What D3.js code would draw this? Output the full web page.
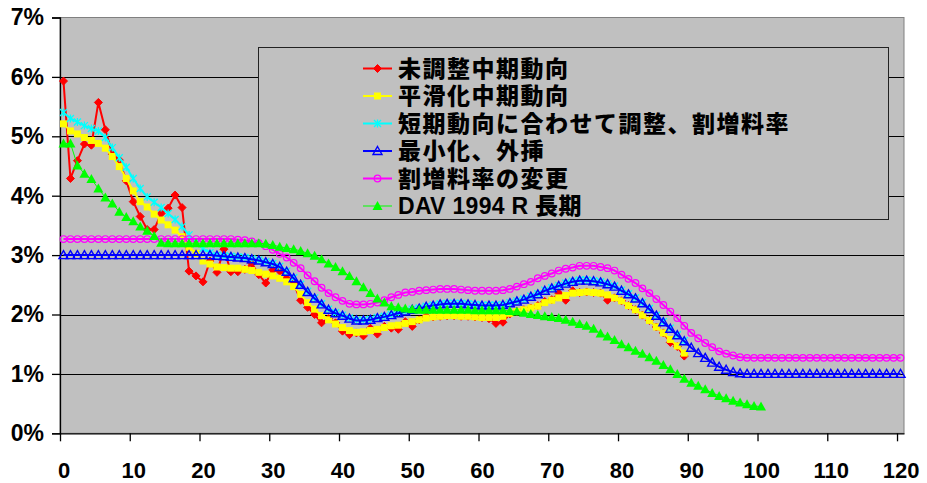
<!DOCTYPE html>
<html>
<head>
<meta charset="utf-8">
<style>
  body { margin: 0; background: #fff; }
  svg text { font-family: "Liberation Sans", Arial, "Noto Sans CJK JP", sans-serif; font-weight: bold; }
</style>
</head>
<body>
<svg id="chart"></svg>
<script src="https://d3js.org/d3.v7.min.js"></script>
<script>
var width = 927, height = 483;
var margin = {top: 17.5, right: 23, bottom: 50, left: 60};

// values in percent, one per age starting at 0
var unadjusted = [5.93,4.29,4.59,4.87,4.85,5.57,5.11,4.70,4.60,4.25,
  3.90,3.65,3.43,3.43,3.70,3.79,4.01,3.80,2.73,2.65,
  2.55,2.90,2.71,3.10,2.72,2.72,2.76,2.86,2.67,2.53,
  2.75,2.73,2.61,2.52,2.24,2.12,2.00,1.86,1.93,1.86,
  1.72,1.66,1.69,1.64,1.77,1.67,1.80,1.77,1.75,1.88,
  1.80,1.91,1.97,1.96,1.97,1.98,1.98,1.97,1.97,1.96,
  1.95,1.93,1.85,1.87,2.01,2.05,2.08,2.11,2.15,2.22,
  2.25,2.36,2.24,2.40,2.37,2.38,2.37,2.36,2.24,2.28,
  2.23,2.15,2.08,1.99,1.90,1.79,1.69,1.53,1.46,1.30];

var smoothed = [5.21,5.09,5.04,4.98,4.93,4.88,4.80,4.66,4.49,4.29,
  4.08,3.90,3.81,3.69,3.59,3.51,3.42,3.31,3.13,3.03,
  2.90,2.85,2.80,2.79,2.78,2.78,2.76,2.74,2.71,2.68,
  2.65,2.61,2.55,2.47,2.34,2.20,2.09,1.98,1.91,1.84,
  1.78,1.73,1.70,1.71,1.73,1.75,1.78,1.81,1.82,1.85,
  1.88,1.91,1.94,1.96,1.97,1.98,1.98,1.97,1.97,1.96,
  1.95,1.95,1.95,1.97,2.02,2.05,2.08,2.11,2.14,2.20,
  2.24,2.28,2.32,2.36,2.37,2.38,2.37,2.36,2.33,2.28,
  2.23,2.15,2.08,1.99,1.90,1.79,1.69,1.58,1.47,1.35];

var shortTerm = [5.40,5.30,5.24,5.18,5.13,5.09,4.98,4.81,4.64,4.48,
  4.29,4.12,3.98,3.89,3.80,3.70,3.60,3.48,3.34,3.21,
  3.11,3.04,3.00,2.99,2.98,2.97,2.96,2.94,2.92,2.89,
  2.86,2.81,2.73,2.62,2.51,2.39,2.28,2.18,2.09,2.03,
  1.99,1.94,1.91,1.91,1.92,1.95,1.97,2.00,2.03,2.06,
  2.09,2.11,2.14,2.16,2.18,2.19,2.19,2.19,2.18,2.17,
  2.16,2.16,2.16,2.17,2.20,2.23,2.26,2.31,2.35,2.41,
  2.45,2.49,2.53,2.56,2.58,2.58,2.57,2.55,2.52,2.48,
  2.41,2.35,2.28,2.20,2.10,1.99,1.88,1.77,1.66,1.56];

var minimized = [3.00,3.00,3.00,3.00,3.00,3.00,3.00,3.00,3.00,3.00,
  3.00,3.00,3.00,3.00,3.00,3.00,3.00,3.00,3.00,3.00,
  3.00,3.00,2.99,2.98,2.97,2.96,2.95,2.93,2.91,2.88,
  2.85,2.80,2.72,2.61,2.50,2.38,2.27,2.17,2.08,2.02,
  1.98,1.93,1.90,1.90,1.91,1.94,1.96,1.99,2.02,2.05,
  2.08,2.10,2.13,2.15,2.17,2.18,2.18,2.18,2.17,2.16,
  2.15,2.15,2.15,2.16,2.19,2.22,2.25,2.30,2.34,2.40,
  2.44,2.48,2.52,2.55,2.57,2.57,2.56,2.54,2.51,2.47,
  2.40,2.34,2.27,2.19,2.09,1.98,1.87,1.76,1.65,1.55,
  1.44,1.35,1.27,1.19,1.12,1.07,1.03,1.01,1.00,1.00,
  1.00,1.00,1.00,1.00,1.00,1.00,1.00,1.00,1.00,1.00,
  1.00,1.00,1.00,1.00,1.00,1.00,1.00,1.00,1.00,1.00,
  1.00];

var surcharge = [3.27,3.27,3.27,3.27,3.27,3.27,3.27,3.27,3.27,3.27,
  3.27,3.27,3.27,3.27,3.27,3.27,3.27,3.27,3.27,3.27,
  3.27,3.27,3.27,3.27,3.27,3.26,3.25,3.23,3.20,3.15,
  3.09,3.02,2.96,2.87,2.78,2.66,2.56,2.45,2.36,2.29,
  2.23,2.18,2.17,2.17,2.18,2.20,2.24,2.29,2.33,2.37,
  2.38,2.40,2.41,2.42,2.43,2.43,2.43,2.42,2.41,2.40,
  2.40,2.40,2.40,2.41,2.43,2.47,2.51,2.55,2.61,2.65,
  2.69,2.74,2.77,2.79,2.82,2.82,2.82,2.80,2.78,2.74,
  2.67,2.60,2.53,2.44,2.36,2.26,2.16,2.05,1.94,1.81,
  1.69,1.60,1.52,1.45,1.38,1.34,1.31,1.28,1.27,1.27,
  1.27,1.27,1.27,1.27,1.27,1.27,1.27,1.27,1.27,1.27,
  1.27,1.27,1.27,1.27,1.27,1.27,1.27,1.27,1.27,1.27,
  1.27];

var dav1994 = [4.88,4.88,4.51,4.37,4.28,4.12,3.97,3.87,3.73,3.64,
  3.57,3.48,3.41,3.32,3.21,3.20,3.20,3.20,3.20,3.20,
  3.20,3.20,3.20,3.20,3.20,3.20,3.20,3.20,3.20,3.19,
  3.17,3.14,3.12,3.10,3.07,3.03,2.99,2.93,2.86,2.80,
  2.73,2.65,2.56,2.46,2.36,2.27,2.20,2.14,2.12,2.10,
  2.09,2.08,2.08,2.08,2.08,2.08,2.08,2.08,2.08,2.07,
  2.07,2.07,2.07,2.07,2.06,2.05,2.03,2.01,1.99,1.97,
  1.96,1.94,1.91,1.88,1.84,1.81,1.76,1.68,1.63,1.57,
  1.50,1.45,1.39,1.34,1.28,1.22,1.15,1.08,1.00,0.92,
  0.85,0.80,0.74,0.68,0.63,0.59,0.55,0.52,0.49,0.46,
  0.45];

var seriesNames = ["未調整中期動向", "平滑化中期動向", "短期動向に合わせて調整、割増料率",
  "最小化、外挿", "割増料率の変更", "DAV 1994 R 長期"];
var xTicks = [0, 10, 20, 30, 40, 50, 60, 70, 80, 90, 100, 110, 120];
var yTicks = [0, 1, 2, 3, 4, 5, 6, 7];

var series = [
  {name: seriesNames[0], values: unadjusted, color: "#FF0000", lw: 2, marker: "diamond"},
  {name: seriesNames[1], values: smoothed, color: "#FFFF00", lw: 2, marker: "square"},
  {name: seriesNames[2], values: shortTerm, color: "#00FFFF", lw: 2, marker: "star"},
  {name: seriesNames[3], values: minimized, color: "#0000FF", lw: 2, marker: "opentri"},
  {name: seriesNames[4], values: surcharge, color: "#FF00FF", lw: 2, marker: "circle"},
  {name: seriesNames[5], values: dav1994, color: "#00FF00", lw: 1, marker: "tri"}
];

var svg = d3.select("#chart").attr("width", width).attr("height", height);

var x = d3.scaleLinear().domain([0, 121]).range([margin.left, width - margin.right]);
var y = d3.scaleLinear().domain([0, 7]).range([433.3, margin.top]);
var mid = 0.5; // points sit in the middle of each age year

// plot area
svg.append("rect")
  .attr("x", x(0)).attr("y", y(7))
  .attr("width", x(121) - x(0)).attr("height", y(0) - y(7))
  .attr("fill", "#C0C0C0").attr("stroke", "#808080").attr("stroke-width", 1);

svg.append("g").selectAll("line")
  .data(yTicks.filter(d => d > 0 && d < 7))
  .enter().append("line")
  .attr("x1", x(0)).attr("x2", x(121))
  .attr("y1", d => Math.round(y(d)) + 0.5).attr("y2", d => Math.round(y(d)) + 0.5)
  .attr("stroke", "#000").attr("stroke-width", 1);

// axes
var yAxis = svg.append("g")
  .attr("transform", "translate(" + x(0) + ",0)")
  .call(d3.axisLeft(y).tickValues(yTicks).tickSize(8).tickPadding(8)
    .tickFormat(d => d + "%"));
yAxis.selectAll("text").style("font-size", "23px").attr("fill", "#000");
yAxis.selectAll("line, path").attr("stroke", "#000").attr("stroke-width", 1.3);

var xAxis = svg.append("g")
  .attr("transform", "translate(0," + y(0) + ")")
  .call(d3.axisBottom(x).tickValues(xTicks).tickSize(8).tickPadding(21).tickSizeOuter(0));
xAxis.selectAll("text").style("font-size", "22px").attr("fill", "#000")
  .attr("dx", x(mid) - x(0));
xAxis.selectAll("line, path").attr("stroke", "#000").attr("stroke-width", 1.3);

// marker shapes
function drawMarker(g, s, px, py) {
  var c = s.color;
  if (s.marker === "diamond") {
    g.append("path").attr("d", "M" + px + "," + (py - 4) + "L" + (px + 4) + "," + py +
      "L" + px + "," + (py + 4) + "L" + (px - 4) + "," + py + "Z")
      .attr("fill", c).attr("stroke", c).attr("stroke-width", 1);
  } else if (s.marker === "square") {
    g.append("rect").attr("x", px - 3.5).attr("y", py - 3.5)
      .attr("width", 7).attr("height", 7).attr("fill", c);
  } else if (s.marker === "star") {
    g.append("path").attr("d", "M" + (px - 3.5) + "," + (py - 3.5) + "L" + (px + 3.5) + "," + (py + 3.5) +
      "M" + (px - 3.5) + "," + (py + 3.5) + "L" + (px + 3.5) + "," + (py - 3.5) +
      "M" + px + "," + (py - 4) + "L" + px + "," + (py + 4))
      .attr("stroke", c).attr("stroke-width", 1.3).attr("fill", "none");
  } else if (s.marker === "opentri") {
    g.append("path").attr("d", "M" + px + "," + (py - 4.5) + "L" + (px + 4.5) + "," + (py + 3.5) +
      "L" + (px - 4.5) + "," + (py + 3.5) + "Z")
      .attr("fill", "none").attr("stroke", c).attr("stroke-width", 1.4);
  } else if (s.marker === "circle") {
    g.append("circle").attr("cx", px).attr("cy", py).attr("r", 3.3)
      .attr("fill", "none").attr("stroke", c).attr("stroke-width", 1.2);
  } else if (s.marker === "tri") {
    g.append("path").attr("d", "M" + px + "," + (py - 5) + "L" + (px + 5) + "," + (py + 4) +
      "L" + (px - 5) + "," + (py + 4) + "Z")
      .attr("fill", c);
  }
}

var line = d3.line()
  .x((d, i) => x(i + mid))
  .y(d => y(d));

series.forEach(function(s) {
  var g = svg.append("g").attr("class", "series");
  g.append("path")
    .datum(s.values)
    .attr("d", line)
    .attr("fill", "none")
    .attr("stroke", s.color)
    .attr("stroke-width", s.lw)
    .attr("stroke-linejoin", "round");
  s.values.forEach(function(v, i) {
    drawMarker(g, s, x(i + mid), y(v));
  });
});

// legend
var legend = svg.append("g").attr("id", "legend");
legend.append("rect")
  .attr("x", 258.5).attr("y", 47.5).attr("width", 630).attr("height", 172)
  .attr("fill", "#C0C0C0").attr("stroke", "#222").attr("stroke-width", 1);

var entry = legend.selectAll("g.entry")
  .data(series)
  .enter().append("g")
  .attr("class", "entry")
  .attr("transform", (d, i) => "translate(0," + (68.5 + i * 27.5) + ")");

entry.append("line")
  .attr("x1", 363).attr("x2", 392).attr("y1", 0).attr("y2", 0)
  .attr("stroke", d => d.color).attr("stroke-width", d => d.lw);
entry.each(function(d) { drawMarker(d3.select(this), d, 377.5, 0); });
entry.append("text")
  .attr("x", 398).attr("y", 8)
  .style("font-size", "23px")
  .style("font-weight", 900)
  .style("letter-spacing", (d, i) => i < 5 ? "1.5px" : "0.3px")
  .attr("fill", "#000")
  .text(d => d.name);
</script>
</body>
</html>
